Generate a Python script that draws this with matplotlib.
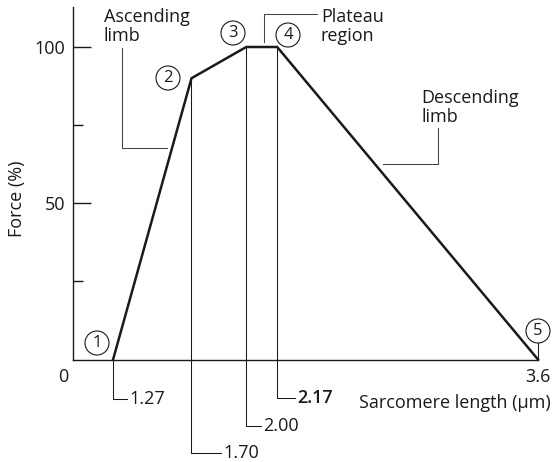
import matplotlib
matplotlib.use("Agg")
import matplotlib.pyplot as plt

# ---- data ----
lengths = [1.27, 1.70, 2.00, 2.17, 3.6]          # sarcomere length (um)
force = [0, 90, 100, 100, 0]                      # force (%)
point_labels = ["1", "2", "3", "4", "5"]
length_labels = ["1.27", "1.70", "2.00", "2.17"]
region_labels = ["Ascending\nlimb", "Plateau\nregion", "Descending\nlimb"]
y_major = [50, 100]
y_minor = [25, 75]

plt.rcParams['font.family'] = ['Open Sans', 'DejaVu Sans']
FS = 13
INK = '#1a1a1a'

W, H = 553, 462
fig = plt.figure(figsize=(W / 100, H / 100), dpi=100)
# axes geometry (pixels)
PX0, PX1, PY0, PY1 = 73.5, 538, 359.5, 7
XMIN, XMAX = 1.053, 3.6
YMAX = 112.8
ax = fig.add_axes([PX0 / W, 1 - PY0 / H, (PX1 - PX0) / W, (PY0 - PY1) / H])
ax.set_xlim(XMIN, XMAX)
ax.set_ylim(0, YMAX)

KX = (PX1 - PX0) / (XMAX - XMIN)
KY = (PY0 - PY1) / YMAX


def dx(px):
    return XMIN + (px - PX0) / KX


def dy(py):
    return (PY0 - py) / KY


for s in ['top', 'right']:
    ax.spines[s].set_visible(False)
for s in ['left', 'bottom']:
    ax.spines[s].set_linewidth(1.0)
    ax.spines[s].set_color(INK)

ax.set_xticks([])
ax.set_yticks(y_major)
ax.set_yticks(y_minor, minor=True)
ax.set_yticklabels([str(v) for v in y_major], fontsize=FS, color=INK)
ax.tick_params(axis='y', which='major', direction='in', length=13, width=1.0,
               color=INK, pad=6)
ax.tick_params(axis='y', which='minor', direction='in', length=7, width=1.0,
               color=INK)

# main curve
ax.plot(lengths, force, color=INK, lw=1.8, solid_joinstyle='miter',
        zorder=5, clip_on=False)

# drop lines with labels below the axis
label_depth_px = [399, 453, 426, 398]
connector_px = [14, 30, 15, 18]
thin = dict(color=INK, lw=0.75, clip_on=False, zorder=3)
for i, lab in enumerate(length_labels):
    x = lengths[i]
    yb = dy(label_depth_px[i])
    xe = dx(PX0 + (x - XMIN) * KX + connector_px[i])
    ax.plot([x, x, xe], [force[i], yb, yb], **thin)
    ax.text(dx(PX0 + (x - XMIN) * KX + connector_px[i] + 2), yb, lab,
            fontsize=FS, color=INK, ha='left', va='center',
            fontweight='semibold' if lab == "2.17" else 'normal', clip_on=False)

# short tick up to point 5
ax.plot([lengths[4], lengths[4]], [0, dy(341)], **thin)

# circled point labels
circle_px = [(97, 343), (168, 78), (233, 33), (288, 35), (538, 331)]
for lab, (cx, cy) in zip(point_labels, circle_px):
    ax.text(dx(cx), dy(cy), lab, fontsize=12, color=INK, ha='center',
            va='center', clip_on=False, zorder=6,
            bbox=dict(boxstyle='circle,pad=0.24', fc='white', ec=INK, lw=0.8))

# region annotations with leader lines
lead = dict(color='#444444', lw=0.75, clip_on=False, zorder=2)
ax.plot([dx(122), dx(122), dx(167)], [dy(48), dy(148), dy(148)], **lead)
ax.plot([dx(264), dx(264), dx(317)], [dy(42), dy(14), dy(14)], **lead)
ax.plot([dx(438), dx(438), dx(383)], [dy(128), dy(164), dy(164)], **lead)

text_pos = [(104, 8), (321, 8), (421, 89)]
for lab, (tx, ty) in zip(region_labels, text_pos):
    ax.text(dx(tx), dy(ty), lab, fontsize=FS, color=INK, ha='left', va='top',
            linespacing=1.1, clip_on=False)

# origin / end labels
fig.text(63 / W, 1 - 377 / H, "0", fontsize=FS, color=INK, ha='center', va='center')
fig.text(538 / W, 1 - 377 / H, "3.6", fontsize=FS, color=INK, ha='center', va='center')

# axis titles
fig.text(551 / W, 1 - 403 / H, "Sarcomere length (μm)", fontsize=FS, color=INK,
         ha='right', va='center')
fig.text(17 / W, 1 - 199 / H, "Force (%)", fontsize=FS, color=INK,
         ha='center', va='center', rotation=90)

fig.savefig("out.png", dpi=100)
